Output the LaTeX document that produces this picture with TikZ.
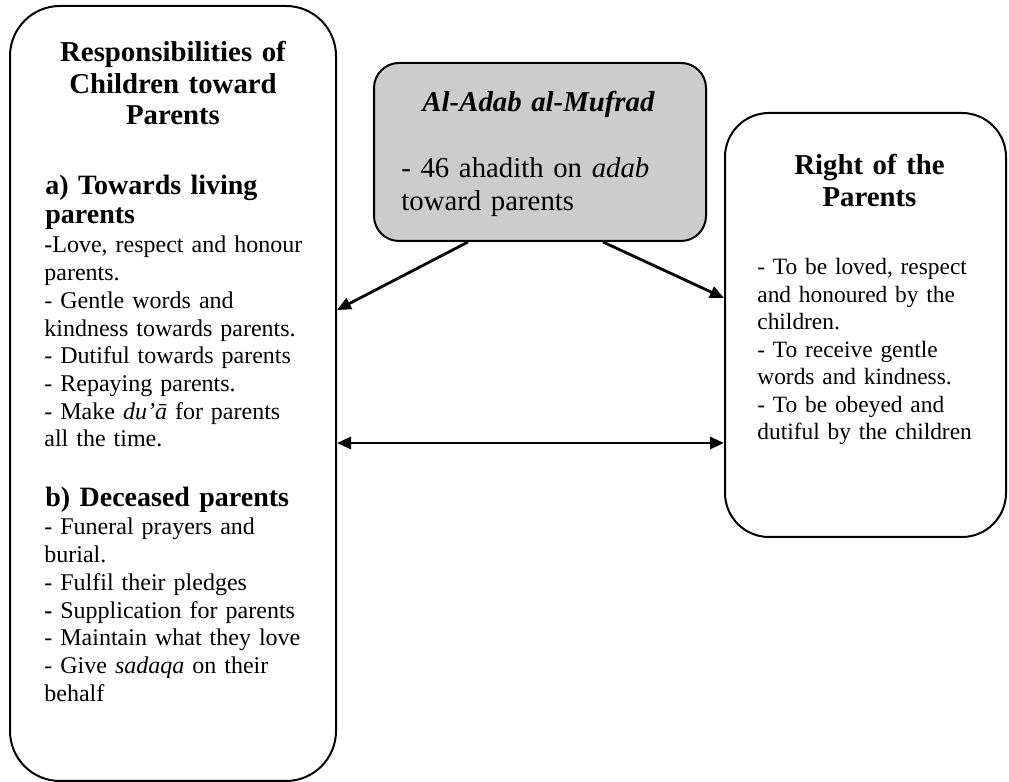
\documentclass[tikz,border=0pt]{standalone}
\usepackage{fontspec}
\setmainfont{Liberation Serif}
\usetikzlibrary{arrows.meta}
\begin{document}
\begin{tikzpicture}[x=0.5pt, y=0.5pt,
  box/.style={draw, line width=1pt, inner sep=0pt},
  link/.style={line width=1.4pt, -{Triangle[length=7pt,width=6pt]}},
  head/.style={inner sep=0pt, font={\bfseries\fontsize{14.4}{15.75}\selectfont}, align=center, text width=150pt, anchor=base},
  subhead/.style={inner sep=0pt, font={\bfseries\fontsize{14}{14.25}\selectfont}, align=left, text width=145pt, anchor=base west},
  list/.style={inner sep=0pt, font={\fontsize{12}{13.85}\selectfont}, align=left, text width=145pt, anchor=base west}]
  \useasboundingbox (0,0) rectangle (1009,782);

  \node[box, rounded corners=25pt, minimum width=163pt, minimum height=387.5pt] (resp) at (173,388.5) {};
  \node[box, rounded corners=12.5pt, fill=gray!40, minimum width=166pt, minimum height=89pt] (mufrad) at (540,630) {};
  \node[box, rounded corners=22pt, minimum width=140.5pt, minimum height=212pt] (rights) at (865.5,457) {};

  \node[head] (resptitle) at (173,720) {Responsibilities of\\Children toward\\Parents};
  \node[subhead] (livinghead) at (45,587) {a) Towards living\\parents};
  \node[list] (livinglist) at (44,529) {\textbf{-}Love, respect and honour\\parents.\\- Gentle words and\\kindness towards parents.\\- Dutiful towards parents\\- Repaying parents.\\- Make \textit{du’ā} for parents\\all the time.};
  \node[subhead] (deceasedhead) at (45,275) {b) Deceased parents};
  \node[list] (deceasedlist) at (44,247) {- Funeral prayers and\\burial.\\- Fulfil their pledges\\\textbf{-} Supplication for parents\\- Maintain what they love\\- Give \textit{sadaqa} on their\\behalf};

  \node[head, font={\bfseries\itshape\fontsize{14.4}{16.5}\selectfont}] (mufradtitle) at (538.5,670) {Al-Adab al-Mufrad};
  \node[list, font={\fontsize{14.4}{16.5}\selectfont}, text width=160pt] (mufradtext) at (401,604) {- 46 ahadith on \textit{adab}\\toward parents};

  \node[head, font={\bfseries\fontsize{14.4}{16}\selectfont}] (righttitle) at (869.5,607) {Right of the\\Parents};
  \node[list, font={\fontsize{11.7}{13.75}\selectfont}, text width=130pt] (rightlist) at (757,507) {- To be loved, respect\\and honoured by the\\children.\\- To receive gentle\\words and kindness.\\- To be obeyed and\\dutiful by the children};

  \draw[link] ([xshift=-36pt]mufrad.south) -- (resp.east |- 0,472);
  \draw[link] ([xshift=31.5pt]mufrad.south) -- (rights.west |- 0,484);
  \draw[link, {Triangle[length=7pt,width=6pt]}-{Triangle[length=7pt,width=6pt]}] (resp.east |- 0,339) -- (rights.west |- 0,339);
\end{tikzpicture}
\end{document}
